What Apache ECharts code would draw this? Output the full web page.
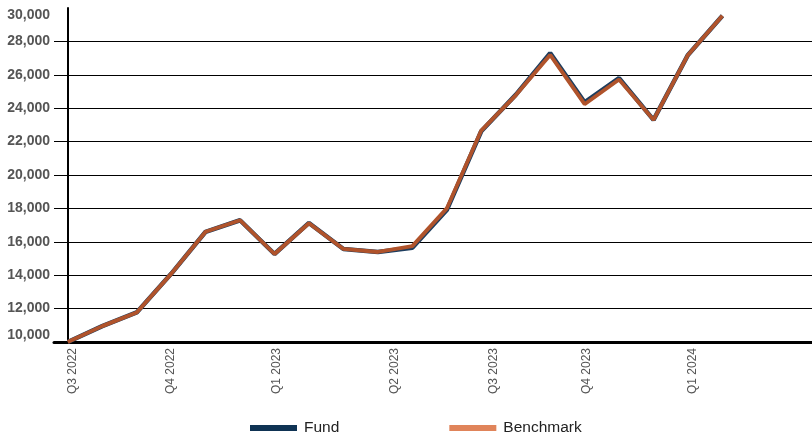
<!DOCTYPE html>
<html>
<head>
<meta charset="utf-8">
<script src="https://cdn.jsdelivr.net/npm/echarts@6/dist/echarts.min.js"></script>
<style>
html,body{margin:0;padding:0;background:#fff;}
#chart{width:812px;height:433px;}
</style>
</head>
<body>
<div id="chart"></div>
<script>
// Monthly observation points
const months = ["Jul 2022","Aug 2022","Sep 2022","Oct 2022","Nov 2022","Dec 2022","Jan 2023","Feb 2023","Mar 2023","Apr 2023","May 2023","Jun 2023","Jul 2023","Aug 2023","Sep 2023","Oct 2023","Nov 2023","Dec 2023","Jan 2024","Feb 2024"];
const fundValues      = [10000,10950,11770,14080,16600,17290,15270,17130,15570,15390,15650,17900,22620,24800,27300,24350,25800,23300,27190,29540];
const benchmarkValues = [10000,10950,11770,14080,16600,17290,15270,17110,15570,15390,15740,18000,22660,24770,27190,24240,25720,23300,27190,29540];
// Quarter tick labels and where they sit (in month-index units)
const tickLabels = ["Q3 2022","Q4 2022","Q1 2023","Q2 2023","Q3 2023","Q4 2023","Q1 2024"];
const tickValues = [0.15, 3, 6.05, 9.5, 12.35, 15.05, 18.15];

const fundData = fundValues.map((v, i) => [i, v]);
const benchData = benchmarkValues.map((v, i) => [i, v]);

const chart = echarts.init(document.getElementById('chart'), null, {renderer: 'canvas'});
chart.setOption({
  animation: false,
  backgroundColor: '#ffffff',
  grid: {left: 54, right: 0, top: 8, bottom: 91, containLabel: false},
  xAxis: {
    type: 'value',
    min: -0.4,
    max: 21.6,
    axisLine: {show: true, onZero: false, lineStyle: {color: '#000', width: 3}},
    axisTick: {show: false},
    splitLine: {show: false},
    axisLabel: {
      customValues: tickValues,
      rotate: 90,
      margin: 6,
      color: '#555',
      fontFamily: 'Liberation Sans, Arial, sans-serif',
      fontSize: 12,
      formatter: function (v) {
        const k = tickValues.findIndex(t => Math.abs(t - v) < 1e-6);
        return k >= 0 ? tickLabels[k] : '';
      }
    }
  },
  yAxis: {
    type: 'value',
    min: 10000,
    max: 30000,
    interval: 2000,
    axisLine: {show: true, lineStyle: {color: '#000', width: 2}},
    axisTick: {show: false},
    splitLine: {show: true, showMinLine: false, showMaxLine: false, lineStyle: {color: '#000', width: 1}},
    axisLabel: {
      margin: 4,
      color: '#555',
      fontWeight: 'bold',
      fontSize: 14,
      fontFamily: 'Liberation Sans, Arial, sans-serif',
      verticalAlignMinLabel: 'bottom',
      verticalAlignMaxLabel: 'top',
      formatter: function (v) { return v.toLocaleString('en-US'); }
    }
  },
  legend: {
    left: 245,
    top: 415,
    icon: 'rect',
    itemWidth: 47,
    itemHeight: 6,
    itemGap: 110,
    textStyle: {color: '#222', fontSize: 15.5, fontFamily: 'Liberation Sans, Arial, sans-serif', padding: [0,0,0,2]},
    data: [
      {name: 'Fund', itemStyle: {color: '#0f3354'}},
      {name: 'Benchmark', itemStyle: {color: '#e0845a'}}
    ]
  },
  series: [
    {
      name: 'Fund',
      type: 'line',
      data: fundData,
      showSymbol: false,
      symbol: 'none',
      lineStyle: {color: '#1d3d5e', width: 4.5},
      itemStyle: {color: '#0f3354'},
      z: 2
    },
    {
      name: 'Benchmark',
      type: 'line',
      data: benchData,
      showSymbol: false,
      symbol: 'none',
      lineStyle: {color: '#b0532b', width: 3.8},
      itemStyle: {color: '#e0845a'},
      z: 3
    }
  ]
});
</script>
</body>
</html>
